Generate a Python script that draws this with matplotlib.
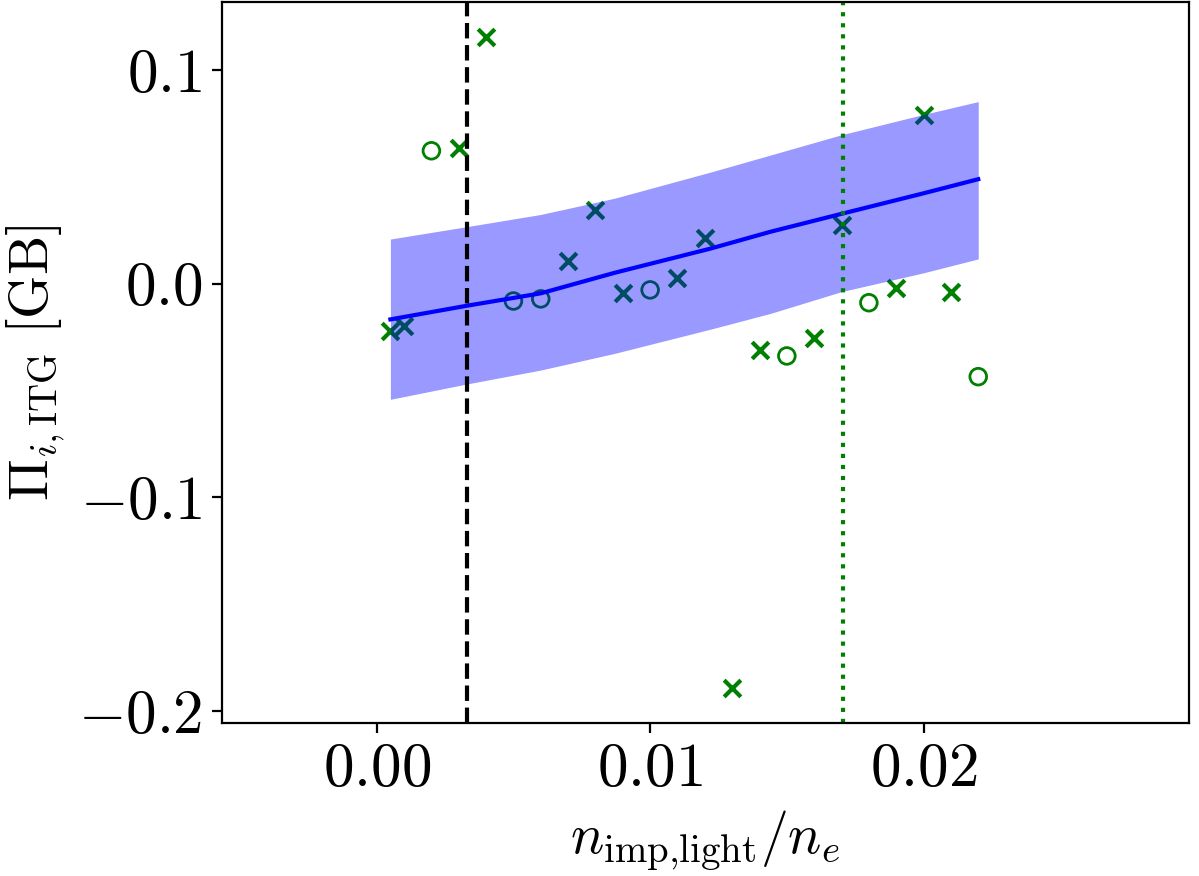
import matplotlib
matplotlib.use('Agg')
import matplotlib.pyplot as plt
from matplotlib.ticker import FixedLocator

plt.rcParams['mathtext.fontset'] = 'cm'
plt.rcParams['font.family'] = 'serif'
plt.rcParams['font.serif'] = ['cmr10', 'DejaVu Serif']
plt.rcParams['axes.formatter.use_mathtext'] = True

# simulation points, crosses
x_cross = [0.0005, 0.001, 0.003, 0.004, 0.007, 0.008, 0.009, 0.011, 0.012,
           0.013, 0.014, 0.016, 0.017, 0.019, 0.020, 0.021]
y_cross = [-0.022, -0.020, 0.0634, 0.1155, 0.0108, 0.0345, -0.0042, 0.0027, 0.0212,
           -0.189, -0.031, -0.0256, 0.0275, -0.0022, 0.0789, -0.004]

# simulation points, open circles
x_circ = [0.002, 0.005, 0.006, 0.010, 0.015, 0.018, 0.022]
y_circ = [0.0622, -0.0081, -0.0071, -0.0029, -0.0338, -0.0089, -0.0435]

# fit and its uncertainty band
x_fit = [0.0005, 0.0033, 0.006, 0.0087, 0.0122, 0.0144, 0.017, 0.020, 0.022]
y_fit = [-0.0167, -0.0103, -0.0045, 0.0051, 0.0164, 0.0243, 0.0327, 0.0423, 0.0489]
y_up = [0.0209, 0.0267, 0.0324, 0.0400, 0.0522, 0.0602, 0.0697, 0.0792, 0.0852]
y_lo = [-0.0541, -0.0469, -0.0404, -0.0326, -0.0213, -0.0139, -0.0037, 0.0051, 0.0116]

x_dashed = 0.0033
x_dotted = 0.01705

fig = plt.figure(figsize=(5.995, 4.38), dpi=200)
ax = fig.add_axes([0.1849, 0.175, 0.9917 - 0.1849, 0.9977 - 0.175])

ax.scatter(x_cross, y_cross, marker='x', color='green', s=36, linewidths=1.5)
ax.scatter(x_circ, y_circ, marker='o', facecolors='none', edgecolors='green', s=36, linewidths=1.0)
ax.fill_between(x_fit, y_lo, y_up, color='blue', alpha=0.4, linewidth=0)
ax.plot(x_fit, y_fit, color='blue', lw=1.5)
ax.axvline(x_dashed, color='black', ls='--', lw=1.5)
ax.axvline(x_dotted, color='green', ls=':', lw=1.5)

ax.set_xlim(-0.00567, 0.02971)
ax.set_ylim(-0.2054, 0.1318)
ax.xaxis.set_major_locator(FixedLocator([0.0, 0.01, 0.02]))
ax.yaxis.set_major_locator(FixedLocator([-0.2, -0.1, 0.0, 0.1]))
ax.set_xticklabels([r'$0.00$', r'$0.01$', r'$0.02$'])
ax.set_yticklabels([r'$-0.2$', r'$-0.1$', r'$0.0$', r'$0.1$'])
ax.tick_params(labelsize=22)

ax.set_xlabel(r'$n_{\mathrm{imp{,}light}}/n_e$', fontsize=20)
ax.set_ylabel(r'$\Pi_{i,\mathrm{ITG}}\ [\mathrm{GB}]$', fontsize=20)

fig.savefig('out.png', dpi=200)
